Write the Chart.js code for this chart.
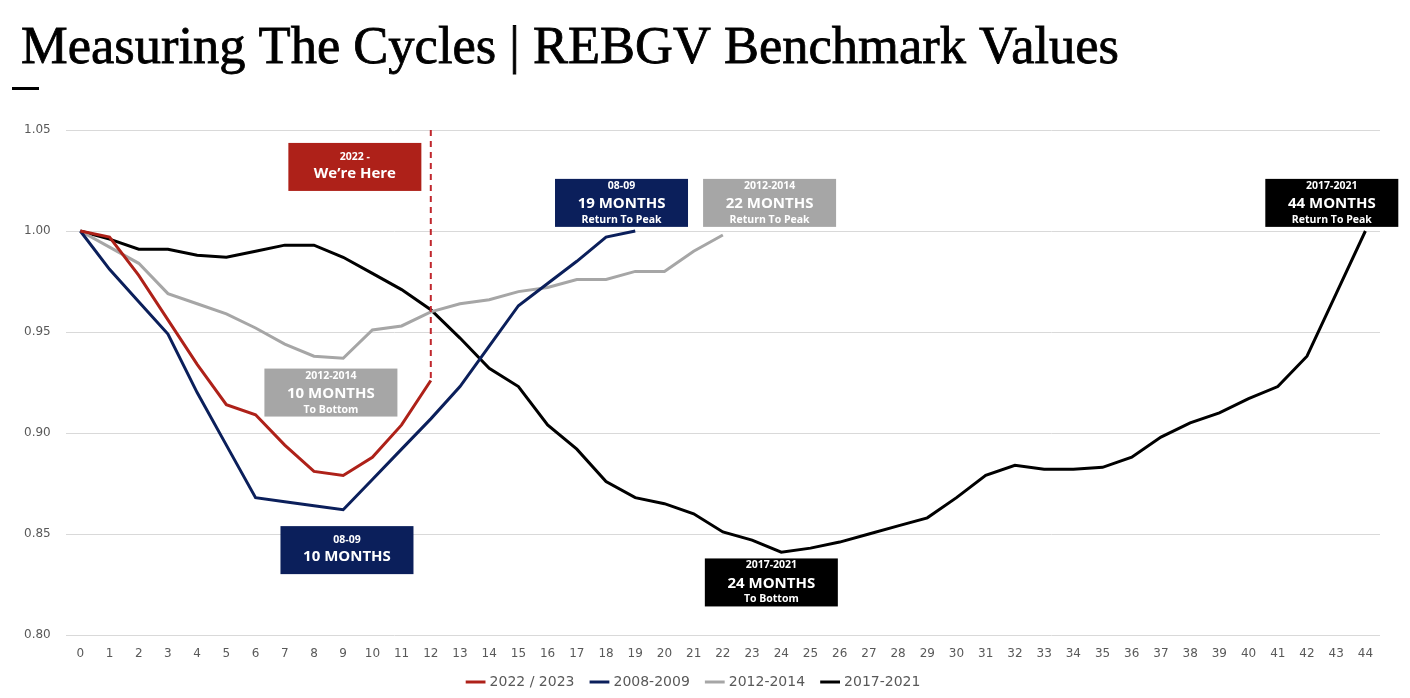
<!DOCTYPE html>
<html>
<head>
<meta charset="utf-8">
<script src="https://cdn.jsdelivr.net/npm/chart.js@4.4.0/dist/chart.umd.min.js"></script>
<style>
  html, body { margin: 0; padding: 0; background: #fff; }
  #wrap { position: relative; width: 1410px; height: 698px; }
</style>
</head>
<body>
<div id="wrap"><canvas id="grafica_ciclos" width="1410" height="698"></canvas></div>
<script>
// --- datos (meses desde el pico, valor relativo al pico)
var meses = [];
for (var m = 0; m <= 44; m++) meses.push(String(m));

var serie2022 = [1.000, 0.997, 0.978, 0.956, 0.934, 0.914, 0.909, 0.894, 0.881, 0.879, 0.888, 0.904, 0.926];
var serie2008 = [1.000, 0.981, 0.965, 0.949, 0.920, 0.894, 0.868, 0.866, 0.864, 0.862, 0.877, 0.892, 0.907,
                 0.923, 0.943, 0.963, 0.974, 0.985, 0.997, 1.000];
var serie2012 = [1.000, 0.992, 0.984, 0.969, 0.964, 0.959, 0.952, 0.944, 0.938, 0.937, 0.951, 0.953, 0.960,
                 0.964, 0.966, 0.970, 0.972, 0.976, 0.976, 0.980, 0.980, 0.990, 0.998];
var serie2017 = [1.000, 0.996, 0.991, 0.991, 0.988, 0.987, 0.990, 0.993, 0.993, 0.987, 0.979, 0.971, 0.961,
                 0.947, 0.932, 0.923, 0.904, 0.892, 0.876, 0.868, 0.865, 0.860, 0.851, 0.847, 0.841,
                 0.843, 0.846, 0.850, 0.854, 0.858, 0.868, 0.879, 0.884, 0.882, 0.882, 0.883, 0.888,
                 0.898, 0.905, 0.910, 0.917, 0.923, 0.938, 0.969, 1.000];

var nombresSeries = ['2022 / 2023', '2008-2009', '2012-2014', '2017-2021'];
var marcaActual = 12; // mes donde estamos (linea punteada)

// cuadros de texto: x = mes (centro), y = valor (borde superior)
var cuadros = [
    {x: 9.40, y: 1.0436, color: '#AE2119', lineas: ['2022 -', 'We\u2019re Here']},
    {x: 8.58, y: 0.9319, color: '#A6A6A6', lineas: ['2012-2014', '10 MONTHS', 'To Bottom']},
    {x: 9.13, y: 0.8539, color: '#0B1F5B', lineas: ['08-09', '10 MONTHS']},
    {x: 18.53, y: 1.0258, color: '#0B1F5B', lineas: ['08-09', '19 MONTHS', 'Return To Peak']},
    {x: 23.60, y: 1.0258, color: '#A6A6A6', lineas: ['2012-2014', '22 MONTHS', 'Return To Peak']},
    {x: 23.66, y: 0.8379, color: '#000000', lineas: ['2017-2021', '24 MONTHS', 'To Bottom']},
    {x: 42.85, y: 1.0258, color: '#000000', lineas: ['2017-2021', '44 MONTHS', 'Return To Peak']}
];

var FUENTE = '"Open Sans", "Liberation Sans", sans-serif';
var FUENTE_EJES = '"DejaVu Sans", sans-serif';

var tituloPlugin = {
    id: 'titulo',
    afterDraw: function(chart){
        var ctx = chart.ctx;
        ctx.save();
        ctx.fillStyle = '#000';
        ctx.font = '52px "Liberation Serif", serif';
        var texto = 'Measuring The Cycles | REBGV Benchmark Values';
        var w = ctx.measureText(texto).width;
        ctx.translate(21, 63);
        ctx.scale(1098 / w, 1);
        ctx.textBaseline = 'alphabetic';
        ctx.lineWidth = 0.8;
        ctx.strokeStyle = '#000';
        ctx.fillText(texto, 0, 0);
        ctx.strokeText(texto, 0, 0);
        ctx.restore();
        ctx.fillStyle = '#000';
        ctx.fillRect(12, 87, 27, 3);
    }
};

var cuadrosPlugin = {
    id: 'cuadros',
    afterDatasetsDraw: function(chart){
        var ctx = chart.ctx;
        var xs = chart.scales.x, ys = chart.scales.y;

        // linea punteada "we're here"
        var px = xs.getPixelForValue(marcaActual);
        ctx.save();
        ctx.strokeStyle = '#C0272D';
        ctx.lineWidth = 2;
        ctx.setLineDash([6, 5]);
        ctx.beginPath();
        ctx.moveTo(px, chart.chartArea.top);
        ctx.lineTo(px, ys.getPixelForValue(serie2022[marcaActual]));
        ctx.stroke();
        ctx.restore();

        cuadros.forEach(function(c){
            var cx = xs.getPixelForValue(c.x);
            var top = ys.getPixelForValue(c.y);
            var w = 133, h = 48;
            ctx.save();
            ctx.fillStyle = c.color;
            ctx.fillRect(cx - w / 2, top, w, h);
            ctx.fillStyle = '#fff';
            ctx.textAlign = 'center';
            ctx.textBaseline = 'middle';
            if (c.lineas.length == 3) {
                ctx.font = '700 10.5px ' + FUENTE;
                ctx.fillText(c.lineas[0], cx, top + 7);
                ctx.font = '700 15px ' + FUENTE;
                ctx.fillText(c.lineas[1], cx, top + 25);
                ctx.font = '700 10.5px ' + FUENTE;
                ctx.fillText(c.lineas[2], cx, top + 41);
            } else {
                ctx.font = '700 10.5px ' + FUENTE;
                ctx.fillText(c.lineas[0], cx, top + 14);
                ctx.font = '700 15px ' + FUENTE;
                ctx.fillText(c.lineas[1], cx, top + 31);
            }
            ctx.restore();
        });
    }
};

function serie(label, data, color){
    return {
        label: label,
        data: data,
        borderColor: color,
        backgroundColor: color,
        borderWidth: 3,
        pointRadius: 0,
        tension: 0,
        fill: false
    };
}

var ciclosCanvas = document.getElementById('grafica_ciclos');

var chartOptions = {
    responsive: false,
    animation: false,
    layout: {padding: {top: 130, left: 9, right: 30, bottom: 0}},
    plugins: {
        title: {display: false},
        tooltip: {enabled: false},
        legend: {
            display: true,
            position: 'bottom',
            maxHeight: 41,
            labels: {
                usePointStyle: true,
                pointStyle: 'line',
                boxWidth: 34,
                padding: 18,
                color: '#595959',
                font: {family: FUENTE_EJES, size: 14}
            }
        }
    },
    scales: {
        x: {
            offset: true,
            grid: {display: false, drawTicks: false},
            border: {display: false},
            afterFit: function(scale){ scale.height = 22; },
            ticks: {color: '#595959', padding: 12, maxRotation: 0, autoSkip: false,
                    font: {family: FUENTE_EJES, size: 12}}
        },
        y: {
            min: 0.80,
            max: 1.05,
            grid: {color: '#D9D9D9', lineWidth: 1, drawTicks: false},
            border: {display: false},
            ticks: {stepSize: 0.05, color: '#595959', padding: 15,
                    font: {family: FUENTE_EJES, size: 12},
                    callback: function(v){ return v.toFixed(2); }}
        }
    }
};

var lineChart = new Chart(ciclosCanvas, {
    type: 'line',
    data: {
        labels: meses,
        datasets: [
            serie(nombresSeries[0], serie2022, '#AE2119'),
            serie(nombresSeries[1], serie2008, '#0B1F5B'),
            serie(nombresSeries[2], serie2012, '#A6A6A6'),
            serie(nombresSeries[3], serie2017, '#000000')
        ]
    },
    options: chartOptions,
    plugins: [tituloPlugin, cuadrosPlugin]
});
</script>
</body>
</html>
